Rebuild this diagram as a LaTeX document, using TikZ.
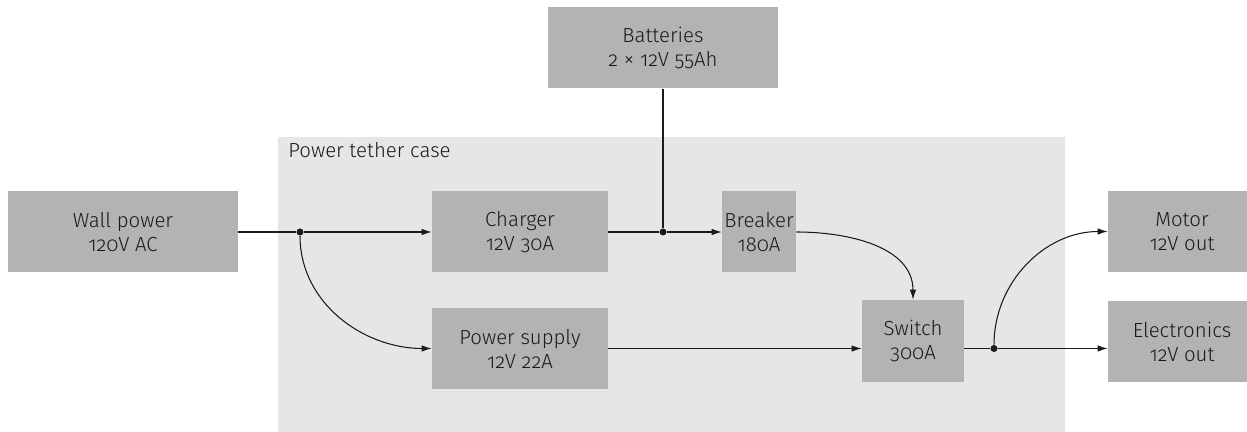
\documentclass[tikz,border=0pt]{standalone}
\usepackage{fontspec}
\setmainfont{Fira Sans Light}[Numbers=OldStyle]
\usetikzlibrary{calc,arrows.meta}

\definecolor{boxgray}{RGB}{179,179,179}
\definecolor{casegray}{RGB}{230,230,230}
\definecolor{inkgray}{RGB}{26,26,26}

\begin{document}
\begin{tikzpicture}[
    font = \fontsize{11.6}{13.6}\selectfont,
    unit/.style = {fill = boxgray, text = inkgray, align = center, inner sep = 0pt,
                   minimum height = 1.62cm},
    wire/.style = {draw = inkgray, line width = 0.6pt},
    feed/.style = {wire, -{Latex[length = 2mm, width = 1.3mm]}},
    joint/.style = {circle, fill = inkgray, inner sep = 0pt, minimum size = 1.4mm}
  ]
  \useasboundingbox (0,0) rectangle (24.94,8.64);
  % 筐体
  \coordinate (case sw) at (5.56,0);
  \coordinate (case ne) at (21.30,5.90);
  \path[fill = casegray](case sw)rectangle(case ne);
  \node[anchor = base west, text = inkgray, inner sep = 0pt](case label)at(5.76,5.48){Power tether case};
  % 入力
  \node[unit, minimum width = 4.6cm](wall)at(2.46,4.00){Wall power\\120V AC};
  \node[unit, minimum width = 4.6cm](batt)at(13.26,7.68){Batteries\\2 {\large×} 12V 55Ah};
  % 筐体の中
  \node[unit, minimum width = 3.52cm](charger)at(10.40,4.00){Charger\\12V 30A};
  \node[unit, minimum width = 1.48cm](breaker)at(15.18,4.00){Breaker\\180A};
  \node[unit, minimum width = 3.52cm](psu)at(10.40,1.67){Power supply\\12V 22A};
  \node[unit, minimum width = 2.04cm, minimum height = 1.64cm](switch)at(18.26,1.82){Switch\\300A};
  % 出力
  \node[unit, minimum width = 2.96cm](motor)at(23.64,4.01){Motor\\12V out};
  \node[unit, minimum width = 2.96cm](elec)at(23.64,1.81){Electronics\\12V out};
  % 分岐点
  \node[joint](split)at(6.00,4.00){};
  \node[joint](tap)at($(batt.south |- charger.east)$){};
  \node[joint](out)at(19.88,1.67){};
  % 配線
  \path[wire](wall.east)--(split);
  \path[feed](split)--(charger.west);
  \path[feed](split)to[out = -90, in = 180](psu.west);
  \path[wire](charger.east)--(tap);
  \path[wire](batt.south)--(tap);
  \path[feed](tap)--(breaker.west);
  \path[feed](breaker.east)to[out = 0, in = 90](switch.north);
  \path[feed](psu.east)--(psu.east -| switch.west);
  \path[wire](psu.east -| switch.east)--(out);
  \path[feed](out)--(out -| elec.west);
  \path[feed](out)to[out = 90, in = 180](motor.west);
\end{tikzpicture}
\end{document}
